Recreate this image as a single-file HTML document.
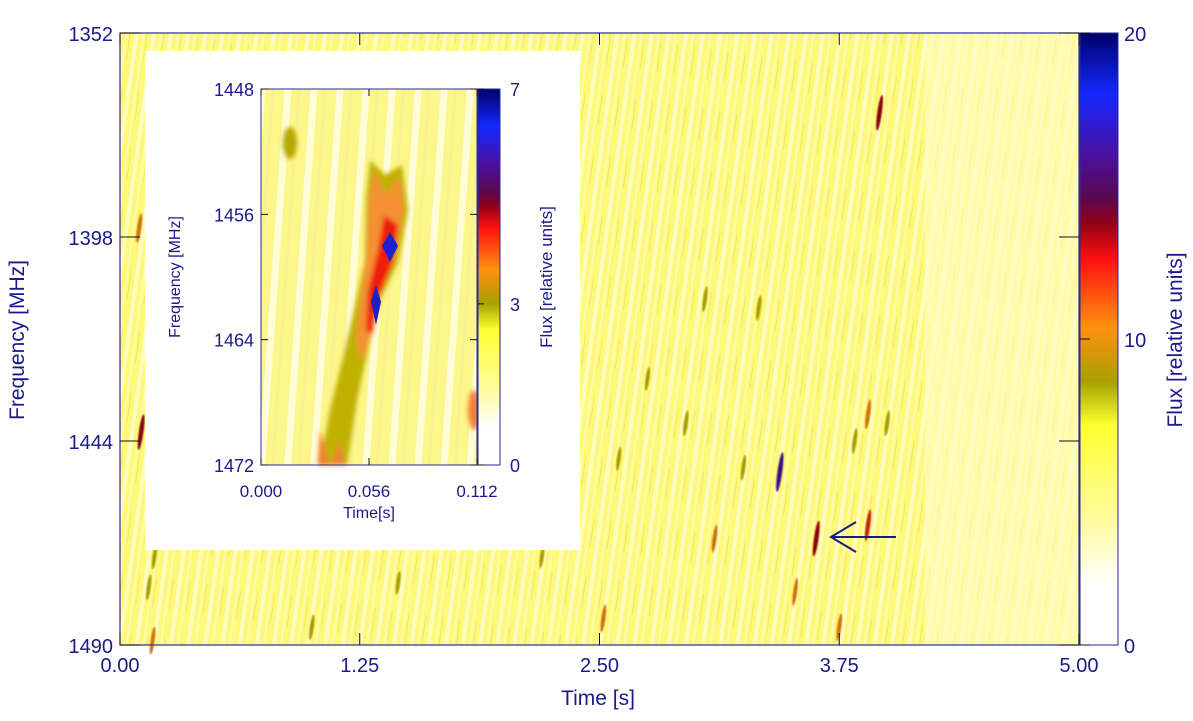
<!DOCTYPE html>
<html><head><meta charset="utf-8">
<style>
body{margin:0;background:#fff;width:1193px;height:716px;overflow:hidden;font-family:"Liberation Sans",sans-serif}
svg text{font-family:"Liberation Sans",sans-serif;fill:#1a1a8c}
</style></head>
<body>
<svg id="chart" width="1193" height="716" xmlns="http://www.w3.org/2000/svg">
<defs>
<linearGradient id="cbar" x1="0" y1="0" x2="0" y2="1">
<stop offset="0" stop-color="#00006a"/><stop offset="0.1" stop-color="#1428ff"/><stop offset="0.2" stop-color="#4a10a0"/>
<stop offset="0.27" stop-color="#5a0850"/><stop offset="0.31" stop-color="#900018"/>
<stop offset="0.37" stop-color="#ff1010"/><stop offset="0.48" stop-color="#ff9010"/>
<stop offset="0.57" stop-color="#a8a000"/><stop offset="0.64" stop-color="#ffff30"/><stop offset="0.8" stop-color="#fffca0"/>
<stop offset="0.9" stop-color="#ffffff"/><stop offset="1" stop-color="#ffffff"/>
</linearGradient>
<pattern id="streaks" width="17" height="60" patternUnits="userSpaceOnUse" patternTransform="rotate(8)">
<rect width="17" height="60" fill="#fff97a"/>
<rect x="2" width="4" height="60" fill="#fffcc0"/>
<rect x="10" width="2" height="60" fill="#fffab0"/>
<rect x="14" y="10" width="1" height="30" fill="#f2e860"/>
</pattern>
<pattern id="istreaks" width="26" height="100" patternUnits="userSpaceOnUse" patternTransform="rotate(4)">
<rect width="26" height="100" fill="#fdf68a"/>
<rect x="4" width="7" height="100" fill="#fffcd8"/>
<rect x="17" width="3" height="100" fill="#faf290"/>
</pattern>
<filter id="blur1"><feGaussianBlur stdDeviation="0.8"/></filter>
<filter id="blur2"><feGaussianBlur stdDeviation="2.5"/></filter>
</defs>
<rect x="120" y="33" width="959" height="612" fill="url(#streaks)"/>
<rect x="925" y="33" width="154" height="612" fill="#fffcc8" opacity="0.6"/>
<g id="hot" filter="url(#blur1)"></g>
<rect x="120" y="33" width="959" height="612" fill="none" stroke="#2a2a9a" stroke-width="1.2"/>
<g id="mticks"></g>
<text x="598" y="705" font-size="21" text-anchor="middle">Time [s]</text>
<text transform="translate(24,340) rotate(-90)" font-size="21" text-anchor="middle">Frequency [MHz]</text>
<rect x="1080" y="33" width="38" height="612" fill="url(#cbar)" stroke="#2a2a9a"/>
<g id="cticks"></g>
<text transform="translate(1182,340) rotate(-90)" font-size="21" text-anchor="middle">Flux [relative units]</text>
<g stroke="#1a1a8c" stroke-width="2" fill="none">
<line x1="896" y1="537" x2="832" y2="537"/><polyline points="856,522 831,537 856,552"/>
</g>
<rect x="145" y="51" width="435" height="499" fill="#fff"/>
<rect x="261" y="89" width="216" height="376" fill="url(#istreaks)"/>
<g id="ihot">
<g filter="url(#blur2)">
<ellipse cx="290" cy="143" rx="7" ry="16" fill="#b8a800"/>
<path d="M370,160 L385,175 L402,165 L408,210 L398,262 L380,300 L370,340 L357,400 L347,465 L320,465 L330,410 L340,370 L352,320 L365,260 L366,200 Z" fill="#c0b000"/>
<path d="M374,170 L386,195 L400,175 L404,210 L394,262 L378,300 L368,345 L362,360 L356,340 L360,300 L366,260 L369,200 Z" fill="#f49030"/>
<path d="M384,215 L398,225 L392,265 L377,300 L372,335 L366,330 L368,290 L378,250 Z" fill="#ee1c10"/>
<ellipse cx="474" cy="410" rx="6" ry="20" fill="#f08030"/>
<path d="M320,430 L330,465 L318,465 Z" fill="#f08030"/>
<path d="M338,440 L346,465 L332,465 Z" fill="#f08030"/>
</g>
<path d="M390,232 L398,246 L390,262 L382,246 Z" fill="#2020d0"/>
<path d="M376,285 L381,302 L376,325 L371,302 Z" fill="#2020c0"/>
</g>
<rect x="261" y="89" width="216" height="376" fill="none" stroke="#2a2a9a"/>
<rect x="478" y="89" width="22" height="376" fill="url(#cbar)" stroke="#2a2a9a"/>
<g id="iticks"></g>
<text x="369" y="518" font-size="16" text-anchor="middle">Time[s]</text>
<text transform="translate(180,277) rotate(-90)" font-size="16" text-anchor="middle">Frequency [MHz]</text>
<text transform="translate(552,277) rotate(-90)" font-size="17" text-anchor="middle">Flux [relative units]</text>
</svg>
<script>
const xTicks=[0,1.25,2.5,3.75,5];
const xTickLabels=["0.00","1.25","2.50","3.75","5.00"];
const yTicks=[1352,1398,1444,1490];
const cTicks=[0,10,20];
const ixTicks=[0,0.056,0.112];
const ixTickLabels=["0.000","0.056","0.112"];
const iyTicks=[1448,1456,1464,1472];
const icTicks=[0,3,7];
// hotspots: time [s], frequency [MHz], flux
const hotT=[0.1,0.11,0.17,0.15,1.0,2.52,3.44,3.63,3.9,3.96,3.52,3.75,3.05,3.33,3.9,2.95,4.0,0.18,2.2,3.83,1.45,1.78,2.6,0.6,3.25,3.1,2.75,1.1];
const hotF=[1396,1442,1489,1477,1486,1484,1451,1466,1463,1370,1478,1486,1412,1414,1438,1440,1440,1470,1470,1444,1476,1416,1448,1405,1450,1466,1430,1385];
const hotV=[10,13,9,8,8,9,15,13,11,13,9,9,8,8,10,8,8,8,7,8,7,7,7,8,8,9,7,7];
const NS="http://www.w3.org/2000/svg";
const xs=t=>120+t/5*959, ys=f=>33+(f-1352)/138*612, cy=v=>645-v/20*612;
const ixs=t=>261+t/0.112*216, iys=f=>89+(f-1448)/24*376, icy=v=>465-v/7*376;
function col(v){const r=v/20; if(r>0.7)return"#3a1080"; if(r>0.6)return"#8a0010"; if(r>0.5)return"#c02010"; if(r>0.42)return"#d07010"; return"#a89a00";}
function mk(p,tag,attrs){const e=document.createElementNS(NS,tag);for(const k in attrs)e.setAttribute(k,attrs[k]);p.appendChild(e);return e;}
const hot=document.getElementById('hot');
hotT.forEach((t,i)=>{const x=xs(t),y=ys(hotF[i]);
 const e=mk(hot,'ellipse',{cx:x,cy:y,rx:1.5+hotV[i]*0.06,ry:5+hotV[i]*1.0,fill:col(hotV[i]),transform:`rotate(8 ${x} ${y})`});
 
 });
const mt=document.getElementById('mticks');
xTicks.forEach((t,i)=>{const x=xs(t);mk(mt,'line',{x1:x,x2:x,y1:645,y2:633,stroke:'#111'});mk(mt,'line',{x1:x,x2:x,y1:33,y2:45,stroke:'#111'});
 const tx=mk(mt,'text',{x:x,y:672,'font-size':20,'text-anchor':'middle'});tx.textContent=xTickLabels[i];
 
 });
yTicks.forEach(f=>{const y=ys(f);mk(mt,'line',{x1:120,x2:140,y1:y,y2:y,stroke:'#111'});mk(mt,'line',{x1:1059,x2:1079,y1:y,y2:y,stroke:'#111'});
 const tx=mk(mt,'text',{x:113,y:y+8,'font-size':20,'text-anchor':'end'});tx.textContent=f;
 
 });
const ct=document.getElementById('cticks');
cTicks.forEach(v=>{const y=cy(v);mk(ct,'line',{x1:1080,x2:1090,y1:y,y2:y,stroke:'#111'});
 const tx=mk(ct,'text',{x:1124,y:y+8,'font-size':20});tx.textContent=v;
 
 });
const it=document.getElementById('iticks');
ixTicks.forEach((t,i)=>{const x=ixs(t);mk(it,'line',{x1:x,x2:x,y1:465,y2:458,stroke:'#111'});mk(it,'line',{x1:x,x2:x,y1:89,y2:96,stroke:'#111'});
 const tx=mk(it,'text',{x:x,y:497,'font-size':17,'text-anchor':'middle'});tx.textContent=ixTickLabels[i];
 
 });
iyTicks.forEach(f=>{const y=iys(f);mk(it,'line',{x1:261,x2:268,y1:y,y2:y,stroke:'#111'});mk(it,'line',{x1:470,x2:477,y1:y,y2:y,stroke:'#111'});
 const tx=mk(it,'text',{x:254,y:y+7,'font-size':18,'text-anchor':'end'});tx.textContent=f;
 
 });
icTicks.forEach(v=>{const y=icy(v);mk(it,'line',{x1:478,x2:484,y1:y,y2:y,stroke:'#111'});
 const tx=mk(it,'text',{x:510,y:y+7,'font-size':18});tx.textContent=v;
 
 });
</script>
</body></html>
